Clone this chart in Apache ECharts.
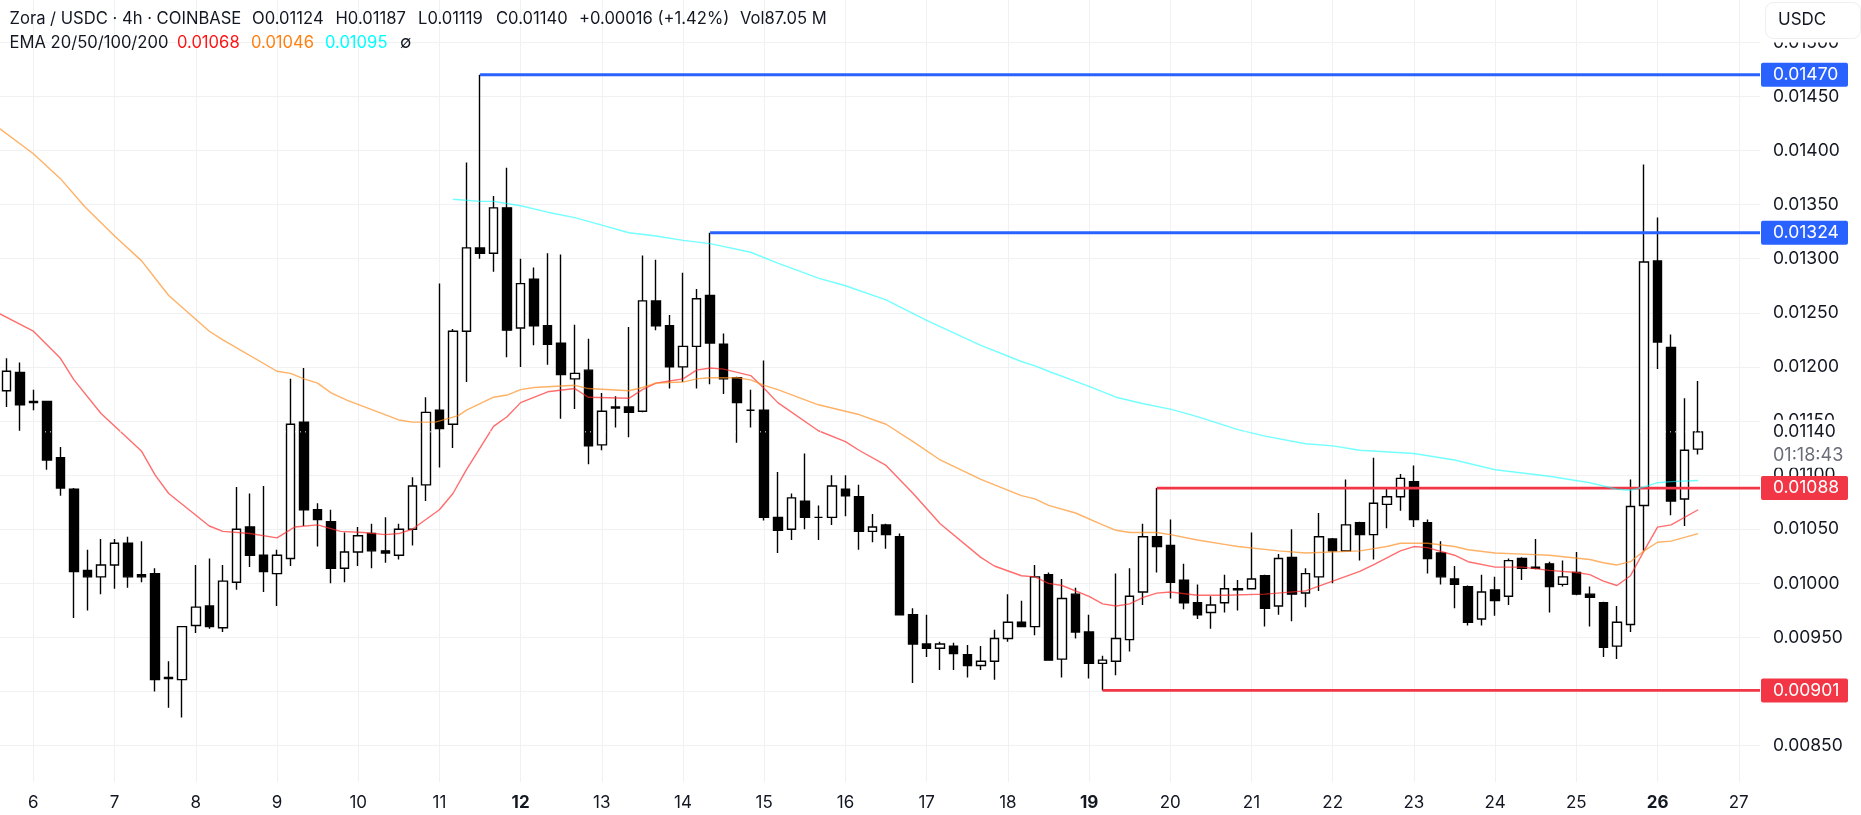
<!DOCTYPE html>
<html>
<head>
<meta charset="utf-8">
<title>Zora / USDC</title>
<script src="https://cdn.jsdelivr.net/npm/echarts@6/dist/echarts.min.js"></script>
<style>
html,body{margin:0;padding:0;background:#fff;}
#chart{width:1861px;height:815px;}
</style>
</head>
<body>
<div id="chart"></div>
<script>
var opens = [
1178,1195,1168,1168,1116,1087,1012,1006,1017,1037,
1008,1009,912,911,961,979,959,1001,1052,1026,
1009,1023,1149,1068,1057,1014,1029,1046,1030,1026,
1050,1091,1160,1147,1233,1310,1305,1347,1236,1281,
1238,1222,1189,1197,1128,1162,1163,1159,1261,1238,
1200,1219,1266,1221,1190,1160,1160,1061,1050,1076,
1061,1061,1087,1080,1048,1054,1043,971,944,940,
942,934,924,928,949,964,960,1008,930,990,
955,926,928,948,992,1043,1035,1003,982,973,
982,995,995,1007,979,1024,991,1006,1041,1030,
1056,1045,1073,1080,1094,1056,1028,1004,997,967,
994,988,1023,1015,1018,999,1010,990,982,942,
962,1072,1298,1218,1078,1124];
var highs = [
1208,1204,1179,1168,1126,1088,1031,1041,1041,1043,
1039,1014,928,960,1017,1023,1017,1089,1083,1090,
1031,1189,1199,1074,1068,1047,1052,1055,1061,1055,
1098,1172,1277,1235,1389,1470,1358,1384,1300,1292,
1305,1304,1239,1226,1176,1173,1237,1303,1299,1248,
1287,1272,1324,1231,1191,1179,1206,1103,1083,1120,
1072,1100,1100,1091,1064,1055,1046,977,971,946,
945,943,942,957,990,984,1017,1010,1004,996,
971,933,1009,1014,1055,1088,1059,1018,999,988,
1008,1003,1047,1008,1027,1050,1014,1065,1042,1096,
1057,1116,1089,1101,1109,1059,1039,1016,998,1008,
1006,1023,1024,1041,1020,1021,1029,997,983,979,
1096,1387,1338,1230,1171,1187];
var lows = [
1163,1141,1160,1105,1081,968,975,990,995,996,
1001,900,885,876,954,958,955,994,1015,992,
979,1016,1053,1034,1000,1001,1016,1014,1019,1022,
1035,1076,1107,1125,1186,1300,1288,1209,1200,1220,
1202,1152,1161,1110,1123,1144,1135,1158,1234,1180,
1186,1180,1184,1175,1130,1144,1058,1028,1040,1050,
1040,1054,1062,1031,1038,1032,971,908,932,920,
920,913,920,911,946,960,952,929,913,949,
912,901,915,937,980,1010,986,976,967,958,
973,975,995,960,971,965,978,993,1000,1030,
1021,1022,1051,1067,1052,1009,999,977,961,961,
970,980,1003,1013,973,997,989,960,932,930,
955,1030,1198,1063,1053,1119];
var closes = [
1196,1165,1167,1114,1088,1011,1006,1017,1037,1006,
1006,911,913,960,978,960,1002,1050,1026,1011,
1026,1147,1068,1059,1014,1029,1044,1030,1028,1050,
1090,1158,1143,1233,1310,1305,1347,1234,1277,1238,
1221,1193,1194,1127,1159,1163,1158,1261,1238,1200,
1219,1263,1222,1189,1167,1160,1061,1049,1079,1061,
1061,1090,1081,1048,1052,1045,971,944,940,944,
935,924,928,949,964,960,1006,929,986,955,
926,929,949,988,1043,1034,1001,982,971,980,
995,994,1004,977,1023,990,1009,1043,1030,1054,
1045,1074,1080,1097,1059,1023,1006,999,964,992,
984,1021,1014,1014,997,1006,990,987,941,964,
1071,1297,1223,1076,1123,1140];

// EMA vertices: position on the candle scale, then price
var ema20X = [-0.465,2,4,5,7,10,11,12,15,16,18,20,21.3,23,24.7,26.4,28,29,30,31,32,33,34,36,37,38,40,42,43,46,47,48,49,50,51,52,53,55,56,57,60,62,63,65,67,69,72,73,75,76,77,78,80,81,82,83,84,85,86,88,90,93,96,98,100,101,103,104,105,107,108,110,112,114,116,117,118,119,120,121,122,123,125];
var ema20 = [1249,1233,1208,1188,1157,1122,1100,1083,1053,1048,1046,1042,1052,1054,1048,1047,1045,1046,1050,1059,1068,1083,1105,1145,1154,1167,1177,1180,1172,1171,1179,1185,1187,1189,1197,1199,1198,1192,1180,1167,1141,1131,1123,1109,1083,1055,1024,1016,1007,1006,1000,998,988,981,979,981,987,991,992,989,989,990,993,1002,1011,1017,1030,1034,1033,1026,1020,1015,1015,1012,1010,1008,1002,998,1007,1030,1052,1054,1068];
var ema50X = [-0.465,2,4,5.8,8,10,11,12,15,16,20,21,22,23,24,25.2,27.1,29,30,31.7,33.4,34,36,37,38,39,42,43,46,47,48,50,51,52,54,55,56,57,60,62,63,65,67,69,72,75,76,77,79,81,82,83,85,86,88,90,91,94,96,100,102,103,104,105,107,108,110,112,114,117,118,119,120,121,122,123,125];
var ema50 = [1420,1397,1374,1348,1321,1298,1282,1266,1233,1225,1196,1194,1189,1185,1176,1169,1160,1151,1149,1149,1155,1160,1172,1174,1179,1181,1183,1180,1178,1181,1185,1186,1189,1190,1190,1188,1183,1179,1165,1159,1156,1147,1131,1114,1096,1081,1078,1072,1065,1054,1049,1047,1047,1045,1040,1036,1034,1030,1028,1030,1034,1037,1037,1037,1034,1031,1028,1027,1026,1022,1019,1017,1020,1030,1038,1039,1046];
var ema100X = [33,35,36,38,40,42,44,46,48,50,52,55,57,60,62,65,68,72,75,76,77,80,82,84,86,88,91,93,96,98,100,104,107,110,114,117,119,120,121,122,123,125];
var ema100 = [1355,1353,1353,1349,1343,1338,1331,1324,1321,1317,1314,1306,1296,1282,1275,1262,1243,1220,1205,1201,1196,1182,1172,1166,1161,1154,1142,1136,1129,1127,1123,1120,1114,1105,1099,1093,1087,1086,1089,1093,1094,1095];

// horizontal levels: candle each one starts from, and its price
var levelStarts = [35,52,85,81];
var levelPrices = [0.01470,0.01324,0.01088,0.00901];
var levelColors = ['#2962ff','#2962ff','#f23645','#f23645'];
var lastPrice = 0.01140;
var countdown = '01:18:43';

var priceTicks = [0.0085,0.009,0.0095,0.01,0.0105,0.011,0.0115,0.012,0.0125,0.013,0.0135,0.014,0.0145,0.015];
var dayLabels = [6,7,8,9,10,11,12,13,14,15,16,17,18,19,20,21,22,23,24,25,26,27];
var boldDays = [12,19,26];

var FONT = 'Inter';
var TEXT = '#131722';
var X_MIN = -0.465, X_MAX = 129.57;

function pairs(xs, ys){
	var out = [];
	for(var i = 0; i < xs.length; i++){ out.push([xs[i], ys[i] / 1e5]); }
	return out;
}
// a day starts every 6 candles, day 6 is candle 2
var dayTicks = dayLabels.map(function(d, i){ return 2 + 6 * i; });

var candleData = opens.map(function(o, i){
	return [i, o / 1e5, closes[i] / 1e5, lows[i] / 1e5, highs[i] / 1e5];
});

var series = [];
levelPrices.forEach(function(p, i){
	series.push({
		type:'line', silent:true, symbol:'none', animation:false,
		data:[[levelStarts[i], p],[X_MAX, p]],
		lineStyle:{color:levelColors[i], width:2.8},
		endLabel:{
			show:true, distance:1, formatter:function(){ return p.toFixed(5); },
			color:'#fff', fontFamily:FONT, fontSize:17.5, lineHeight:17,
			backgroundColor:levelColors[i], borderRadius:2,
			padding:[4,0,3,12], width:75, align:'left'
		}
	});
});
[[ema20X,ema20,'rgba(255,40,40,.68)'],[ema50X,ema50,'rgba(255,140,30,.68)'],[ema100X,ema100,'rgba(0,255,255,.55)']].forEach(function(e){
	series.push({
		type:'line', silent:true, symbol:'none', animation:false,
		data:pairs(e[0], e[1]), lineStyle:{color:e[2], width:1.4}
	});
});
series.push({
	type:'candlestick', silent:true, animation:false, barWidth:9,
	data:candleData, encode:{x:0, y:[1,2,3,4]},
	itemStyle:{color:'#fff', color0:'#000', borderColor:'#000', borderColor0:'#000', borderWidth:1.4}
});
// dotted last price line, only shows where it crosses dark bars
series.push({
	type:'line', silent:true, symbol:'none', animation:false,
	data:[[X_MIN, lastPrice],[X_MAX, lastPrice]],
	lineStyle:{color:'#fff', width:1, type:[1,4]},
	endLabel:{
		show:true, distance:1, offset:[0,12], align:'left',
		formatter:function(){ return '{a|' + lastPrice.toFixed(5) + '}\n{b|' + countdown + '}'; },
		backgroundColor:'#fff', padding:[0,0,0,12], width:75,
		rich:{
			a:{fontFamily:FONT, fontSize:17.5, color:TEXT, lineHeight:24},
			b:{fontFamily:FONT, fontSize:18, color:'#6a6d78', lineHeight:24}
		}
	}
});

var headerRow1 = [['Zora / USDC · 4h · COINBASE',9.5],['O0.01124',252],['H0.01187',335.5],['L0.01119',418],['C0.01140',496],['+0.00016 (+1.42%)',579],['Vol87.05 M',740]];
var headerRow2 = [['EMA 20/50/100/200',9.5,TEXT],['0.01068',177,'#ff1414'],['0.01046',251,'#ff8010'],['0.01095',325,'#00ffff'],['∅',400,TEXT]];

var graphic = [
	{type:'rect', z:100, shape:{x:1761,y:0,width:100,height:42.5}, style:{fill:'#fff'}},
	{type:'rect', z:101, shape:{x:1765.5,y:2.5,width:95,height:36,r:8}, style:{fill:'#fff',stroke:'#eeeeee',lineWidth:1}},
	{type:'text', z:102, x:1778, y:20, style:{text:'USDC',fill:TEXT,font:'17px '+FONT,textVerticalAlign:'middle'}}
];
headerRow1.forEach(function(t){
	graphic.push({type:'text', z:102, x:t[1], y:19, style:{text:t[0],fill:TEXT,font:'16.6px '+FONT,textVerticalAlign:'middle'}});
});
headerRow2.forEach(function(t){
	graphic.push({type:'text', z:102, x:t[1], y:43, style:{text:t[0],fill:t[2],font:'16.6px '+FONT,textVerticalAlign:'middle'}});
});

var chart = echarts.init(document.getElementById('chart'), null, {renderer:'canvas'});
chart.setOption({
	animation:false,
	backgroundColor:'#fff',
	grid:{left:0, top:0, width:1760, height:782},
	xAxis:{
		type:'value', min:X_MIN, max:X_MAX,
		axisLine:{show:false}, axisTick:{show:false, customValues:dayTicks},
		splitLine:{show:true, lineStyle:{color:'#f0f1f3', width:1}},
		axisLabel:{
			customValues:dayTicks, margin:12, color:TEXT, fontFamily:FONT, fontSize:17,
			formatter:function(v){
				var d = dayLabels[dayTicks.indexOf(v)];
				return boldDays.indexOf(d) >= 0 ? '{b|' + d + '}' : '' + d;
			},
			rich:{b:{fontFamily:FONT, fontSize:17, fontWeight:'bold', color:TEXT}}
		}
	},
	yAxis:{
		type:'value', position:'right', min:0.008164, max:0.015391,
		axisLine:{show:false}, axisTick:{show:false, customValues:priceTicks},
		splitLine:{show:true, lineStyle:{color:'#f0f1f3', width:1}},
		axisLabel:{
			customValues:priceTicks, margin:13, color:TEXT, fontFamily:FONT, fontSize:17.5,
			formatter:function(v){ return v.toFixed(5); }
		}
	},
	graphic:graphic,
	series:series
});
</script>
</body>
</html>
